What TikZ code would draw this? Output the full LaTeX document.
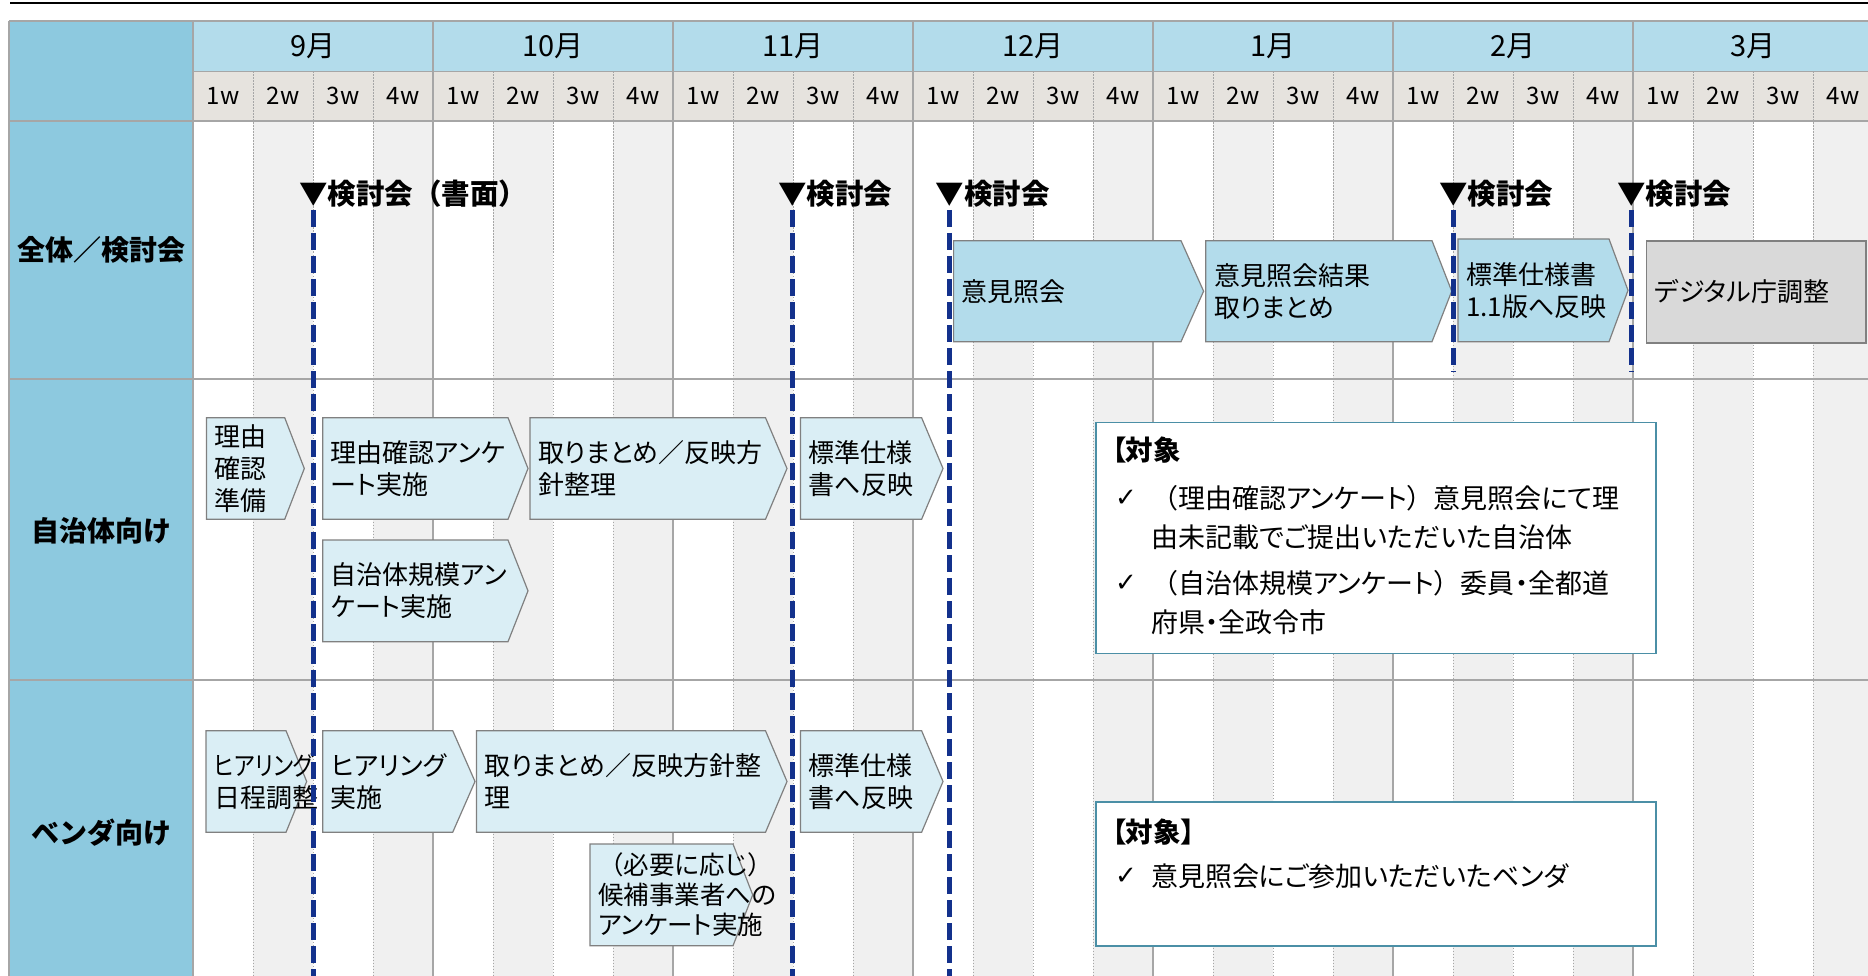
\documentclass[tikz,border=0pt]{standalone}
\usepackage{fontspec}
\setmainfont{Noto Sans CJK JP}[RawFeature=+palt]
\newfontfamily\fw{Noto Sans CJK JP}
\newfontfamily\narrowjp{Noto Sans CJK JP}[RawFeature=+palt, FakeStretch=0.86]
\newfontfamily\dv{DejaVu Sans}
\newcommand\setfs[2]{\fontsize{#1}{#2}\selectfont}
\definecolor{labelcol}{HTML}{8DC9DF}
\definecolor{monthcol}{HTML}{B3DCEB}
\definecolor{weekcol}{HTML}{E6E3DE}
\definecolor{shadecol}{HTML}{F0F0F0}
\definecolor{chevone}{HTML}{B3DCEB}
\definecolor{chevtwo}{HTML}{DAEEF5}
\definecolor{graybox}{HTML}{D9D9D9}
\definecolor{chevb}{HTML}{808080}
\definecolor{gridc}{HTML}{A6A6A6}
\definecolor{navy}{HTML}{13318C}
\definecolor{noteb}{HTML}{4B8FA6}
\newcommand\mychev[9]{%
  \filldraw[#8] (#2,#5) -- (#3,#5) -- (#4,{(#5+#6)/2}) -- (#3,#6) -- (#2,#6) -- cycle;
  \node[boxtext,#7] (#1) at ({#2+8},{(#5+#6)/2}) {#9};
}
\begin{document}
\begin{tikzpicture}[x=1pt,y=-1pt,
  boxtext/.style={font=\setfs{26}{32}, align=left, inner sep=0pt, anchor=west},
  chevA/.style={fill=chevone, draw=chevb, line width=1.2pt},
  chevB/.style={fill=chevtwo, draw=chevb, line width=1.2pt},
  chevG/.style={fill=graybox, draw=chevb, line width=1.2pt},
  rowlabel/.style={font=\fw\bfseries\setfs{28}{34}, inner sep=0pt},
  monthlbl/.style={font=\setfs{29}{32}, inner sep=0pt},
  weeklbl/.style={font=\setfs{24}{28}, inner sep=0pt},
  mstext/.style={font=\fw\bfseries\setfs{28.5}{34}, anchor=west, inner sep=0pt},
  msline/.style={draw=navy, line width=5pt, dash pattern=on 17pt off 6pt},
  weekline/.style={draw=gridc, line width=0.9pt, dash pattern=on 1.5pt off 1.5pt},
  monthline/.style={draw=gridc, line width=1.5pt},
  rowline/.style={draw=gridc, line width=2pt},
  notebox/.style={draw=noteb, line width=1.5pt, fill=white, anchor=north west, inner sep=0pt},
  notetitle/.style={font=\bfseries\setfs{27.5}{34}, anchor=west, inner sep=0pt},
  notetext/.style={font=\setfs{27}{38.5}, align=left, anchor=west, inner sep=0pt},
  checkmk/.style={font=\dv\setfs{26}{30}, anchor=west, inner sep=0pt}]
\useasboundingbox (0,0) rectangle (1868,976);
\fill[white] (0,0) rectangle (1868,976);
% top rule
\draw[line width=1.5pt, black] (10,3) -- (1868,3);
% shaded week columns
\foreach \m in {0,...,6} {
  \fill[shadecol] ({193+240*\m+60},121) rectangle ({193+240*\m+120},976);
  \fill[shadecol] ({193+240*\m+180},121) rectangle ({193+240*\m+240},976);
}
% label column and header fills
\fill[labelcol] (9,21) rectangle (193,976);
\fill[monthcol] (193,21) rectangle (1868,71.5);
\fill[weekcol] (193,71.5) rectangle (1868,121);
% week separators
\foreach \m in {0,...,6} {
  \foreach \k in {1,2,3} {
    \draw[weekline] ({193+240*\m+60*\k},71.5) -- ({193+240*\m+60*\k},976);
  }
}
% month separators
\foreach \m in {0,...,6} {
  \draw[monthline] ({193+240*\m},21) -- ({193+240*\m},976);
}
\draw[monthline] (9,21) -- (9,976);
\draw[monthline] (9,21) -- (1868,21);
\draw[monthline] (193,71.5) -- (1868,71.5);
\draw[rowline] (9,121) -- (1868,121);
\draw[rowline] (9,379) -- (1868,379);
\draw[rowline] (9,680) -- (1868,680);
% month labels
\foreach \m/\t in {0/9月,1/10月,2/11月,3/12月,4/1月,5/2月,6/3月} {
  \node[monthlbl] (mon\m) at ({193+240*\m+120},46) {\t};
}
% week labels
\foreach \m in {0,...,6} {
  \foreach \w in {1,...,4} {
    \node[weeklbl] (wk\m\w) at ({193+240*\m+60*\w-30},96) {\w w};
  }
}
% row labels
\node[rowlabel] (rowA) at (101,250) {全体／検討会};
\node[rowlabel] (rowB) at (101,531) {自治体向け};
\node[rowlabel] (rowC) at (101,833) {ベンダ向け};
% row 1 chevrons
\mychev{c11}{953.6}{1181}{1203.6}{240.7}{341.7}{}{chevA}{意見照会}
\mychev{c12}{1205.8}{1432}{1451.7}{240.7}{341.7}{}{chevA}{意見照会結果\\取りまとめ}
\mychev{c13}{1458}{1609}{1628}{239}{341.7}{}{chevA}{標準仕様書\\1.1版へ反映}
\mychev{c14}{1646.5}{1866}{1866}{241}{343}{}{chevG}{デジタル庁調整}
% row 2 chevrons
\mychev{c21}{206.4}{284.7}{304.3}{417.7}{519.3}{}{chevB}{理由\\確認\\準備}
\mychev{c22}{322.7}{508}{528}{417.7}{519.3}{}{chevB}{理由確認アンケ\\ート実施}
\mychev{c23}{530}{765.5}{787}{417.7}{519.3}{}{chevB}{取りまとめ／反映方\\針整理}
\mychev{c24}{800.4}{921.6}{943}{417.7}{519.3}{}{chevB}{標準仕様\\書へ反映}
\mychev{c25}{322.7}{508}{528}{540}{641.7}{}{chevB}{自治体規模アン\\ケート実施}
% row 3 chevrons
\mychev{c31}{206}{286}{306.7}{730.7}{832.3}{}{chevB}{{\narrowjp ヒアリング}\\日程調整}
\mychev{c32}{322.7}{452.7}{475}{730.7}{832.3}{}{chevB}{ヒアリング\\実施}
\mychev{c33}{476.4}{765.5}{787}{730.7}{832.3}{}{chevB}{取りまとめ／反映方針整\\理}
\mychev{c34}{800.4}{921.6}{943}{730.7}{832.3}{}{chevB}{標準仕様\\書へ反映}
\mychev{c35}{590}{733}{752.7}{844}{945.7}{font=\setfs{25.5}{30}}{chevB}{{\fw （}必要に応じ{\fw ）}\\候補事業者への\\アンケート実施}
% note boxes
\node[notebox, minimum width=559.6pt, minimum height=231pt] (note1) at (1095.4,421.7) {};
\node[notetitle] (note1t) at (1112,450) {【対象};
\node[checkmk] (note1c1) at (1115,498) {✓};
\node[notetext] (note1a) at (1151,517.4) {{\fw （}理由確認アンケート{\fw ）}意見照会にて理\\由未記載でご提出いただいた自治体};
\node[checkmk] (note1c2) at (1115,583) {✓};
\node[notetext] (note1b) at (1151,602.4) {{\fw （}自治体規模アンケート{\fw ）}委員・全都道\\府県・全政令市};
\node[notebox, minimum width=559.6pt, minimum height=144pt] (note2) at (1095.4,801) {};
\node[notetitle] (note2t) at (1112,831.7) {【対象】};
\node[checkmk] (note2c) at (1115,876.7) {✓};
\node[notetext] (note2a) at (1151,876.7) {意見照会にご参加いただいたベンダ};
% milestones
\node[mstext] (ms1) at (299,194) {▼検討会（書面）};
\node[mstext] (ms2) at (778,194) {▼検討会};
\node[mstext] (ms3) at (935.5,194) {▼検討会};
\node[mstext] (ms4) at (1439,194) {▼検討会};
\node[mstext] (ms5) at (1617,194) {▼検討会};
\coordinate (l1t) at (313,210); \coordinate (l1b) at (313,976);
\coordinate (l2t) at (792,210); \coordinate (l2b) at (792,976);
\coordinate (l3t) at (949.5,210); \coordinate (l3b) at (949.5,976);
\coordinate (l4t) at (1453,210); \coordinate (l4b) at (1453,372);
\coordinate (l5t) at (1631,210); \coordinate (l5b) at (1631,372);
\draw[msline] (l1t) -- (l1b);
\draw[msline] (l2t) -- (l2b);
\draw[msline] (l3t) -- (l3b);
\draw[msline] (l4t) -- (l4b);
\draw[msline] (l5t) -- (l5b);
\end{tikzpicture}
\end{document}
